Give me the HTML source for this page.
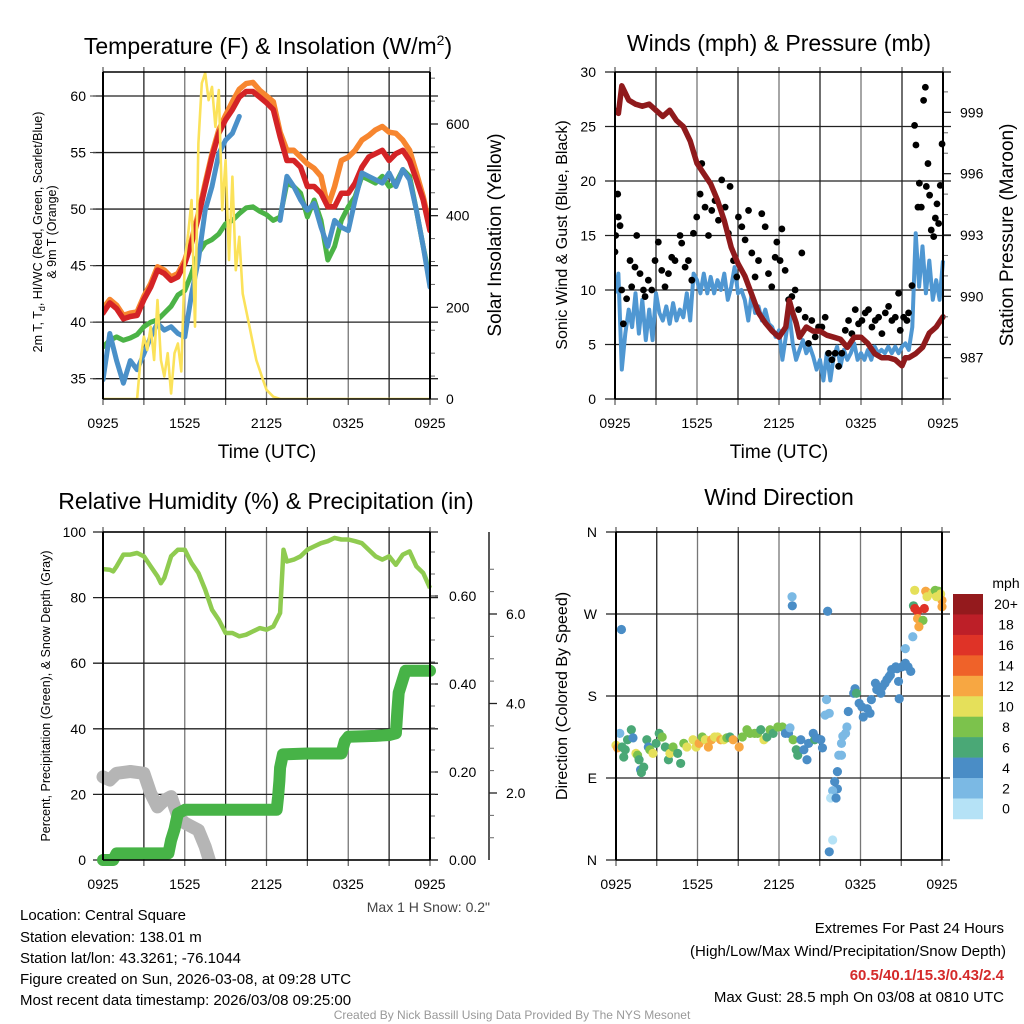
<!DOCTYPE html>
<html><head><meta charset="utf-8">
<style>
body{margin:0;background:#fff;width:1024px;height:1024px;overflow:hidden;font-family:"Liberation Sans",sans-serif;}
svg{display:block}
text{font-family:"Liberation Sans",sans-serif;fill:#000}
</style></head>
<body>
<svg id="chart" width="1024" height="1024" viewBox="0 0 1024 1024" xmlns="http://www.w3.org/2000/svg">
<g id="static">
<text x="268" y="54" font-size="23" text-anchor="middle">Temperature (F) &amp; Insolation (W/m<tspan font-size="14" dy="-9">2</tspan><tspan dy="9">)</tspan></text>
<text x="779" y="51" font-size="23" text-anchor="middle">Winds (mph) &amp; Pressure (mb)</text>
<text x="266" y="509" font-size="23" text-anchor="middle">Relative Humidity (%) &amp; Precipitation (in)</text>
<text x="779" y="505" font-size="23" text-anchor="middle">Wind Direction</text>
<text x="267" y="458" font-size="19" text-anchor="middle">Time (UTC)</text>
<text x="779" y="458" font-size="19" text-anchor="middle">Time (UTC)</text>
<g transform="translate(42,232) rotate(-90)"><text x="0" y="0" font-size="12.5" text-anchor="middle">2m T, T<tspan font-size="9" dy="3">d</tspan><tspan dy="-3">, HI/WC (Red, Green, Scarlet/Blue)</tspan></text><text x="0" y="14" font-size="12.5" text-anchor="middle">&amp; 9m T (Orange)</text></g>
<text transform="translate(501,235) rotate(-90)" font-size="19" text-anchor="middle">Solar Insolation (Yellow)</text>
<text transform="translate(567,235) rotate(-90)" font-size="16" text-anchor="middle">Sonic Wind &amp; Gust (Blue, Black)</text>
<text transform="translate(1013,235) rotate(-90)" font-size="19" text-anchor="middle">Station Pressure (Maroon)</text>
<text transform="translate(50,696) rotate(-90)" font-size="12.5" text-anchor="middle">Percent, Precipitation (Green), &amp; Snow Depth (Gray)</text>
<text transform="translate(567,696) rotate(-90)" font-size="16" text-anchor="middle">Direction (Colored By Speed)</text>
<text x="490" y="912" font-size="14" text-anchor="end" fill="#444" style="fill:#444">Max 1 H Snow: 0.2"</text>
<g font-size="15">
<text x="20" y="920">Location: Central Square</text>
<text x="20" y="942">Station elevation: 138.01 m</text>
<text x="20" y="963">Station lat/lon: 43.3261; -76.1044</text>
<text x="20" y="984">Figure created on Sun, 2026-03-08, at 09:28 UTC</text>
<text x="20" y="1005">Most recent data timestamp: 2026/03/08 09:25:00</text>
</g>
<g font-size="15" text-anchor="end">
<text x="1004" y="933">Extremes For Past 24 Hours</text>
<text x="1006" y="956">(High/Low/Max Wind/Precipitation/Snow Depth)</text>
<text x="1004" y="980" font-weight="bold" style="fill:#d42a2a">60.5/40.1/15.3/0.43/2.4</text>
<text x="1004" y="1002">Max Gust: 28.5 mph On 03/08 at 0810 UTC</text>
</g>
<text x="512" y="1019" font-size="12" text-anchor="middle" style="fill:#999">Created By Nick Bassill Using Data Provided By The NYS Mesonet</text>
<text x="1006" y="588" font-size="14" text-anchor="middle">mph</text>
</g>
</svg>
<script>
// ---------- data ----------
const xTickLabels = ["0925","1525","2125","0325","0925"];
const hours = [0,0.5,1,1.5,2,2.5,3,3.5,4,4.5,5,5.5,6,6.5,7,7.5,8,8.5,9,9.5,10,10.5,11,11.5,12,12.5,13,13.5,14,14.5,15,15.5,16,16.5,17,17.5,18,18.5,19,19.5,20,20.5,21,21.5,22,22.5,23,23.5,24];
const temp2m = [40.8,41.7,41.2,40.3,40.5,40.6,42.0,43.1,44.6,44.3,43.7,44.0,45.2,47.0,49.3,52.0,54.6,56.7,57.9,58.8,59.9,60.4,60.4,59.9,59.4,58.8,56.4,54.3,54.3,53.7,52.0,52.0,51.4,50.2,50.2,51.4,51.4,52.3,53.7,54.6,54.9,55.2,54.3,54.9,55.2,54.3,52.6,50.8,48.1];
const temp9m = [41.2,42.0,41.5,40.6,40.8,40.9,42.3,43.4,44.9,44.6,44.0,44.3,45.5,47.3,49.6,52.3,54.9,57.0,58.3,59.5,60.6,61.1,61.2,60.5,60.0,59.5,56.8,55.2,55.2,54.6,54.0,53.6,52.9,50.2,52.0,54.3,54.6,55.2,56.1,56.5,57.0,57.3,56.8,56.7,56.1,55.2,53.2,51.1,48.4];
const dewpoint = [37.8,38.4,38.7,38.4,38.6,38.9,39.6,40.0,40.2,40.8,41.4,42.4,42.8,44.3,46.1,47.0,47.3,47.8,48.7,49.0,49.6,50.1,50.2,49.8,49.5,49.0,49.3,52.3,52.0,51.4,49.3,50.8,49.0,45.5,46.7,49.0,50.2,51.1,52.9,52.6,52.3,52.9,52.0,52.3,53.5,52.9,49.9,46.7,43.7];
const windChill = [34.9,39.0,36.6,34.6,36.6,35.8,37.2,38.7,39.9,39.3,39.6,39.0,38.7,42.5,45.5,49.9,52.0,54.9,56.1,56.7,58.2,null,null,null,58.0,null,49.0,52.9,52.0,50.8,49.9,50.5,48.4,46.7,49.0,48.4,48.1,50.8,53.2,52.9,52.6,52.3,53.2,52.0,53.5,52.6,49.9,46.7,43.1];
const solarHours = [0,2.5,2.75,3,3.25,3.5,3.75,4,4.25,4.5,4.75,5,5.25,5.5,5.75,6,6.25,6.5,6.75,7,7.25,7.5,7.75,8,8.25,8.5,8.75,9,9.25,9.5,9.75,10,10.25,10.5,10.75,11,11.25,11.5,11.75,12,12.5,13,24];
const solar = [0,0,85,136,107,158,85,216,85,49,100,12,100,121,60,303,361,434,158,558,689,711,652,681,594,674,412,521,303,485,281,354,230,194,158,121,85,63,41,20,5,0,0];

const windHours = [0,0.25,0.5,0.75,1,1.25,1.5,1.75,2,2.25,2.5,2.75,3,3.25,3.5,3.75,4,4.25,4.5,4.75,5,5.25,5.5,5.75,6,6.25,6.5,6.75,7,7.25,7.5,7.75,8,8.25,8.5,8.75,9,9.25,9.5,9.75,10,10.25,10.5,10.75,11,11.25,11.5,11.75,12,12.25,12.5,12.75,13,13.25,13.5,13.75,14,14.25,14.5,14.75,15,15.25,15.5,15.75,16,16.25,16.5,16.75,17,17.25,17.5,17.75,18,18.25,18.5,18.75,19,19.25,19.5,19.75,20,20.25,20.5,20.75,21,21.25,21.5,21.75,22,22.25,22.5,22.75,23,23.25,23.5,23.75,24];
const windSpeed = [9.7,11.5,2.7,6.0,8.2,6.6,9.7,6.0,9.1,5.4,8.2,5.4,9.7,7.9,7.2,8.5,6.9,8.8,7.2,8.2,7.5,9.7,7.2,11.5,10.9,9.7,11.5,9.7,11.2,9.7,10.9,10.0,11.5,9.1,10.3,12.1,9.7,10.0,9.1,7.2,9.7,7.9,8.5,7.2,8.2,6.9,6.6,5.7,6.3,3.6,5.7,7.9,5.1,3.6,4.5,5.4,4.2,4.8,3.9,2.7,3.6,1.7,4.2,1.7,3.9,4.8,3.0,4.5,3.6,4.2,5.1,3.6,4.2,3.6,4.5,3.6,4.8,4.2,4.5,4.2,4.8,4.2,4.8,4.2,4.8,5.1,4.5,6.6,15.2,10.3,14.0,9.7,12.7,9.1,10.9,9.1,12.7];
const gustHours = [0,0.05,0.2,0.24,0.37,0.49,0.61,0.85,1.1,1.22,1.46,1.59,1.83,2.08,2.2,2.44,2.69,2.93,3.17,3.42,3.66,3.91,4.15,4.39,4.76,4.88,5.13,5.37,5.62,5.74,5.98,6.23,6.35,6.59,6.84,7.08,7.32,7.57,7.81,8.06,8.3,8.42,8.67,8.91,9.03,9.28,9.52,9.77,10.01,10.25,10.5,10.74,10.99,11.23,11.47,11.72,11.84,12.08,12.21,12.45,12.7,12.94,13.18,13.43,13.67,13.92,14.16,14.4,14.65,14.89,15.14,15.38,15.63,15.87,16.11,16.36,16.6,16.85,17.09,17.33,17.58,17.82,18.07,18.31,18.55,18.8,19.04,19.29,19.53,19.78,20.02,20.26,20.51,20.75,20.87,21.12,21.36,21.48,21.73,21.92,22.02,22.17,22.27,22.41,22.58,22.71,22.78,22.9,23.02,23.14,23.32,23.44,23.56,23.68,23.8,23.93];
const gustSpeed = [13.5,15.0,18.8,16.7,15.9,10.0,6.9,9.2,12.7,10.3,12.1,15.0,11.5,10.0,9.4,10.9,10.0,12.7,14.4,11.8,10.3,11.5,13.0,12.7,15.0,14.3,12.1,12.7,10.9,15.2,16.7,18.8,21.6,17.6,15.0,17.3,18.2,16.4,20.1,17.6,15.2,19.5,12.7,11.2,16.7,15.8,14.6,17.3,13.4,11.2,12.7,17.0,15.8,11.5,10.3,13.0,14.4,12.7,15.6,11.8,9.1,9.4,10.0,8.2,13.4,7.5,5.1,7.2,5.7,6.6,6.6,7.5,4.2,3.6,4.2,3.0,4.2,6.3,7.2,6.0,8.2,6.9,7.2,7.9,8.2,6.6,7.2,7.5,6.0,7.9,8.5,7.2,7.5,9.7,6.3,7.5,7.2,7.9,10.4,25.1,23.3,17.6,19.8,17.6,27.4,28.6,19.5,21.6,18.7,15.5,14.9,16.6,17.9,16.1,19.6,23.4];
const pressHours = [0,0.25,0.5,1,1.5,2,2.5,3,3.5,4,4.5,5,5.5,6,6.5,7,7.5,8,8.5,9,9.5,10,10.5,11,11.5,12,12.5,12.75,13,13.25,13.5,14,14.5,15,15.5,16,16.5,17,17.5,18,18.5,19,19.5,20,20.5,21,21.25,21.5,22,22.5,23,23.5,24];
const pressure = [999.1,998.95,1000.3,999.6,999.4,999.3,999.4,999.1,998.8,999.1,998.6,998.3,997.6,996.5,996.0,995.5,994.7,993.7,992.4,991.6,991.0,990.1,989.2,988.7,988.3,988.0,988.5,989.8,989.2,988.7,988.0,988.5,988.3,988.3,988.1,988.0,987.9,987.5,988.0,988.0,987.7,987.2,987.0,987.0,986.9,986.6,987.0,987.0,987.2,987.5,988.2,988.5,989.0];

const rhHours = [0,0.5,0.75,1,1.5,2,2.5,3,3.5,4,4.25,4.5,5,5.5,6,6.5,7,7.5,8,8.5,9,9.5,10,10.5,11,11.5,12,12.5,13,13.25,13.5,14,14.5,15,15.5,16,16.5,17,17.5,18,18.5,19,19.5,20,20.5,21,21.5,22,22.5,23,23.5,24];
const relHumidity = [88.7,88.5,88.0,89.5,93.1,93.1,93.6,92.6,89.5,86.5,84.4,86.0,92.6,94.6,94.6,90.5,87.5,82.4,76.3,73.2,69.2,69.2,68.2,68.7,69.7,70.7,70.2,71.2,75.3,94.6,91.0,91.6,92.6,94.6,95.6,96.6,97.2,98.2,97.7,97.7,97.2,96.6,94.6,92.6,91.6,92.6,90.0,93.1,94.1,89.5,87.5,82.9];
const precipHours = [0,0.75,1,2,3,4,4.8,5,5.25,5.5,6,8,10,12,12.75,12.85,12.95,13,13.2,15,17.5,17.75,18,20,21,21.5,21.6,21.7,21.9,22.2,23,24];
const precip = [0,0,0.015,0.015,0.015,0.015,0.015,0.045,0.07,0.106,0.114,0.114,0.114,0.114,0.114,0.144,0.18,0.21,0.24,0.242,0.242,0.27,0.28,0.282,0.284,0.288,0.337,0.38,0.40,0.43,0.43,0.43];
const snowHours = [0,0.5,1,2,3,3.5,4,4.5,5,5.5,6,6.5,7,7.5,7.8];
const snowDepth = [2.36,2.29,2.44,2.48,2.44,1.99,1.69,1.84,1.92,1.48,1.33,1.25,1.17,0.80,0.50];

const dirHours = [0,0.11,0.28,0.45,0.57,0.68,0.85,1.13,1.25,1.47,1.59,1.70,1.81,1.87,2.04,2.27,2.38,2.49,2.72,2.95,3.18,3.40,3.63,3.86,3.97,4.20,4.54,4.76,4.99,5.22,5.67,5.90,6.12,6.35,6.58,6.80,7.03,7.26,7.48,7.71,7.94,8.16,8.39,8.62,9.07,9.30,9.64,9.87,10.21,10.43,10.66,10.89,11.11,11.34,11.57,11.91,12.25,12.47,12.70,12.81,13.04,13.27,13.38,13.61,13.83,14.06,14.18,14.52,14.63,14.74,15.08,15.20,12.96,12.98,15.58,0.4,15.5,15.4,15.7,16.9,16.6,16.4,16.6,16.3,16.1,16.3,15.95,15.8,16.2,15.95,15.7,16.7,17.0,17.1,17.5,17.6,17.7,17.9,18.1,18.2,18.5,18.8,18.7,19.1,19.2,19.5,19.6,19.8,19.95,20.1,20.2,20.3,20.6,20.7,20.8,20.85,21.05,21.3,21.5,21.7,21.3,21.85,21.9,22.0,22.2,22.7,22.2,22.4,22.6,22.3,21.99,22.8,23.0,22.9,23.3,23.5,23.75,23.9,24,24,23.6];
const dirDegrees = [126,123,139,124,113,121,132,143,134,117,115,110,99,96,102,132,124,121,117,128,139,135,124,110,117,124,117,106,128,124,132,124,128,135,132,124,132,135,135,132,132,134,135,132,124,135,143,139,139,139,143,132,135,143,139,146,146,139,139,145,132,121,115,132,121,110,128,139,132,134,132,123,289,279,273,253,176,159,161,139,128,115,115,97,86,78,76,68,68,22,9,136,146,163,183,188,183,172,168,157,166,176,161,194,187,183,190,194,198,201,203,209,212,210,196,177,212,216,212,207,232,245,279,276,273,276,265,263,263,256,296,295,293,289,293,296,295,292,285,278,289];
const dirSpeed = [10,13,2,6,6,7,6,6,5,11,8,6,4,6,6,6,4,8,10,7,6,8,7,6,10,8,6,6,8,10,10,11,12,8,10,12,12,10,10,12,10,8,6,12,12,8,8,8,8,8,7,10,6,8,6,8,8,4,4,2,8,6,6,4,4,4,4,4,6,4,4,4,2,4,4,4,2,2,2,2,2,2,2,4,4,4,2,1,4,1,4,2,2,4,4,4,6,4,4,4,4,4,4,4,4,4,4,4,4,4,4,4,4,4,4,4,4,4,4,4,2,2,6,16,16,16,12,12,8,12,10,12,12,10,10,8,8,10,12,12,10];
const speedBins = ["0","2","4","6","8","10","12","14","16","18","20+"];
const speedColors = ["#b5e2f6","#7bb9e4","#4a8dc6","#4aa876","#7cc24c","#e5e05a","#f7a742","#ef6229","#df3327","#bd1f28","#941a1d"];

// ---------- helpers ----------
const NS = "http://www.w3.org/2000/svg";
const svg = document.getElementById("chart");
function mk(tag, attrs, parent){const e=document.createElementNS(NS,tag);for(const k in attrs)e.setAttribute(k,attrs[k]);(parent||svg).appendChild(e);return e;}
function scale(d0,d1,r0,r1){return v=>r0+(v-d0)*(r1-r0)/(d1-d0);}
function pathFrom(xs,ys,fx,fy){let d="",pen=false;for(let i=0;i<xs.length;i++){if(ys[i]===null||ys[i]===undefined){pen=false;continue;}d+=(pen?"L":"M")+fx(xs[i]).toFixed(1)+","+fy(ys[i]).toFixed(1);pen=true;}return d;}

function panelFrame(name,L,R,T,B,hGrid){
  const g=mk("g",{});
  
  
  for(let i=0;i<=8;i++){const x=L+(R-L)*i/8;const l=mk("line",{x1:x,x2:x,y1:T,y2:B,stroke:i%2?"#222":"#777","stroke-width":1.3},g);
    mk("line",{x1:x,x2:x,y1:B,y2:B+6,stroke:"#555","stroke-width":1.2},g);mk("line",{x1:x,x2:x,y1:T,y2:T-5,stroke:"#555","stroke-width":1.2},g);}
  hGrid.forEach(y=>{const l=mk("line",{x1:L-10,x2:R+8,y1:y,y2:y,stroke:"#222","stroke-width":1.3},g);});
  for(let i=0;i<5;i++){const t=mk("text",{x:L+(R-L)*i/4,y:B+29,"font-size":14,"text-anchor":"middle"},g);t.textContent=xTickLabels[i];}
  return g;
}
function frameBorder(L,R,T,B){mk("line",{x1:L,x2:L,y1:T,y2:B,stroke:"#000","stroke-width":2});mk("line",{x1:R,x2:R,y1:T,y2:B,stroke:"#000","stroke-width":2});mk("line",{x1:L,x2:R,y1:B,y2:B,stroke:"#000","stroke-width":1.5});mk("line",{x1:L,x2:R,y1:T,y2:T,stroke:"#000","stroke-width":1.5});}

// ---------- Panel 1: temperature ----------
{const L=103,R=430,T=72,B=399;
 const fx=scale(0,24,L,R), fy=scale(60,35,96,378.7), fs=scale(0,600,399,124);
 const grid=[35,40,45,50,55,60].map(fy);
 panelFrame("temperature",L,R,T,B,grid);
 const clip=mk("clipPath",{id:"c1"});mk("rect",{x:L,y:T-12,width:R-L,height:B-T+12},clip);
 const g=mk("g",{"clip-path":"url(#c1)"});
 const series=[["temp-9m-line",hours,temp9m,"#f7862f",5.5],["temp-2m-line",hours,temp2m,"#d42326",5.5],["dewpoint-line",hours,dewpoint,"#4bb346",5],["windchill-line",hours,windChill,"#4a90c8",5],["solar-insolation-line",solarHours,solar,"#fbe25a",2.6]];
 series.forEach(s=>{const fyy=s[0]==="solar-insolation-line"?fs:fy;const p=mk("path",{d:pathFrom(s[1],s[2],fx,fyy),fill:"none",stroke:s[3],"stroke-width":s[4],"stroke-linejoin":"round","stroke-linecap":"round"},g);});
 [35,40,45,50,55,60].forEach(v=>{const t=mk("text",{x:86,y:fy(v)+5,"font-size":14,"text-anchor":"end"});t.textContent=v;mk("line",{x1:90,x2:96,y1:fy(v),y2:fy(v),stroke:"#444"});});
 [0,200,400,600].forEach(v=>{const t=mk("text",{x:446,y:fs(v)+5,"font-size":14});t.textContent=v;mk("line",{x1:R,x2:R+8,y1:fs(v),y2:fs(v),stroke:"#222","stroke-width":1.3});});
 for(let v=50;v<=700;v+=50){if(v%200)mk("line",{x1:R,x2:R+5,y1:fs(v),y2:fs(v),stroke:"#666"});}
 frameBorder(L,R,T,B);}

// ---------- Panel 2: winds ----------
{const L=615,R=943,T=72,B=399;
 const fx=scale(0,24,L,R), fy=scale(0,30,B,T), fp=scale(999,987,157/3+60,893/3+60);
 panelFrame("winds",L,R,T,B,[0,5,10,15,20,25,30].map(fy));
 const clip=mk("clipPath",{id:"c2"});mk("rect",{x:L,y:T-6,width:R-L+6,height:B-T+6},clip);
 const g=mk("g",{"clip-path":"url(#c2)"});
 const w=mk("path",{d:pathFrom(windHours,windSpeed,fx,fy),fill:"none",stroke:"#4f97d2","stroke-width":4,"stroke-linejoin":"round"},g);
 
 const gg=mk("g",{},g);
 gustHours.forEach((h,i)=>{const c=mk("circle",{cx:fx(h),cy:fy(gustSpeed[i]),r:3.4,fill:"#000"},gg);});
 const p=mk("path",{d:pathFrom(pressHours,pressure,fx,fp),fill:"none",stroke:"#8f1a1c","stroke-width":5.5,"stroke-linejoin":"round","stroke-linecap":"round"},g);
 
 [0,5,10,15,20,25,30].forEach(v=>{const t=mk("text",{x:596,y:fy(v)+5,"font-size":14,"text-anchor":"end"});t.textContent=v;});
 [987,990,993,996,999].forEach(v=>{const t=mk("text",{x:960,y:fp(v)+5,"font-size":14});t.textContent=v;mk("line",{x1:R,x2:R+8,y1:fp(v),y2:fp(v),stroke:"#222","stroke-width":1.3});});
 for(let v=986;v<=1000;v++){if(v%3)mk("line",{x1:R,x2:R+5,y1:fp(v),y2:fp(v),stroke:"#666"});}
 frameBorder(L,R,T,B);}

// ---------- Panel 3: RH & precip ----------
{const L=103,R=430,T=532,B=860;
 const fx=scale(0,24,L,R), fy=scale(0,100,B,T), fpr=scale(0,0.2,860,772), fsn=scale(2,4,793,703.5);
 panelFrame("humidity",L,R,T,B,[0,20,40,60,80,100].map(fy));
 const clip=mk("clipPath",{id:"c3"});mk("rect",{x:L-8,y:T,width:R-L+16,height:B-T+8},clip);
 const g=mk("g",{"clip-path":"url(#c3)"});
 const sClip=mk("clipPath",{id:"c3b"});mk("rect",{x:L-10,y:T,width:R-L+20,height:B-T},sClip);
 const sn=mk("path",{d:pathFrom(snowHours,snowDepth,fx,fsn),fill:"none",stroke:"#b5b5b5","stroke-width":13,"stroke-linejoin":"round","stroke-linecap":"round","clip-path":"url(#c3b)"});
 
 const pr=mk("path",{d:pathFrom(precipHours,precip,fx,fpr),fill:"none",stroke:"#47b347","stroke-width":12,"stroke-linejoin":"round","stroke-linecap":"round"});
 
 const rh=mk("path",{d:pathFrom(rhHours,relHumidity,fx,fy),fill:"none",stroke:"#8fcb50","stroke-width":4.5,"stroke-linejoin":"round"},g);
 
 [0,20,40,60,80,100].forEach(v=>{const t=mk("text",{x:86,y:fy(v)+5,"font-size":14,"text-anchor":"end"});t.textContent=v;});
 [0,0.2,0.4,0.6].forEach(v=>{const t=mk("text",{x:449,y:fpr(v)+5,"font-size":14});t.textContent=v.toFixed(2);mk("line",{x1:R,x2:R+8,y1:fpr(v),y2:fpr(v),stroke:"#222","stroke-width":1.3});});
 for(let v=0.05;v<0.75;v+=0.05){mk("line",{x1:R,x2:R+5,y1:fpr(v),y2:fpr(v),stroke:"#666"});}
 const ax=mk("line",{x1:489,x2:489,y1:532,y2:860,stroke:"#222","stroke-width":1.5});
 [2,4,6].forEach(v=>{const t=mk("text",{x:506,y:fsn(v)+5,"font-size":14});t.textContent=v.toFixed(1);mk("line",{x1:489,x2:497,y1:fsn(v),y2:fsn(v),stroke:"#222","stroke-width":1.3});});
 for(let v=0.5;v<=7.2;v+=0.5){if(v%2&&fsn(v)<860)mk("line",{x1:489,x2:494,y1:fsn(v),y2:fsn(v),stroke:"#666"});}
 frameBorder(L,R,T,B);}

// ---------- Panel 4: direction ----------
{const L=616,R=942,T=532,B=860;
 const fx=scale(0,24,L,R), fy=scale(0,360,B,T);
 panelFrame("direction",L,R,T,B,[0,90,180,270,360].map(fy));
 ["N","E","S","W","N"].forEach((s,i)=>{const t=mk("text",{x:597,y:fy(i*90)+5,"font-size":14,"text-anchor":"end"});t.textContent=s;});
 const g=mk("g",{});
 dirHours.forEach((h,i)=>{const b=Math.min(10,Math.floor(dirSpeed[i]/2));const c=mk("circle",{cx:fx(h),cy:fy(dirDegrees[i]),r:4.6,fill:speedColors[b]},g);});
 frameBorder(L,R,T,B);
 const cb=mk("g",{});
 const top=594,bh=20.45;
 speedBins.slice().reverse().forEach((lab,i)=>{const col=speedColors[10-i];const r=mk("rect",{x:953,y:top+i*bh,width:30,height:bh+0.3,fill:col},cb);
   const t=mk("text",{x:1006,y:top+i*bh+bh/2+5,"font-size":14,"text-anchor":"middle"},cb);t.textContent=lab;});
}
</script>
</body></html>
